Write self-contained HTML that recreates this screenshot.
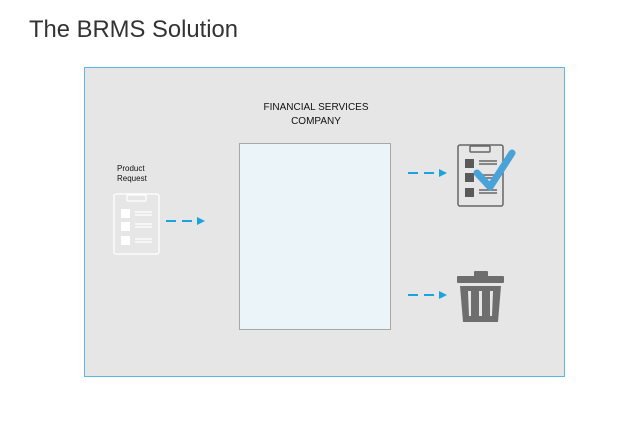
<!DOCTYPE html>
<html><head><style>body{margin:0;background:#fff;width:634px;height:434px;overflow:hidden}</style></head>
<body>
<svg width="634" height="434" xmlns="http://www.w3.org/2000/svg" font-family="Liberation Sans, sans-serif">
<text x="29" y="37" font-size="23.8" fill="#333">The BRMS Solution</text>
<rect x="84.5" y="67.5" width="480" height="309" fill="#e6e6e6" stroke="#5bb8e0" stroke-width="1"/>
<text x="316" y="110" font-size="10" text-anchor="middle" fill="#111">FINANCIAL SERVICES</text>
<text x="316" y="124" font-size="10" text-anchor="middle" fill="#111">COMPANY</text>
<rect x="239.5" y="143.5" width="151" height="186" fill="#eaf4f9" stroke="#a8a8a8"/>
<text x="117" y="171" font-size="8" fill="#111">Product</text>
<text x="117" y="181" font-size="8" fill="#111">Request</text>
<g stroke="#fff" fill="none" stroke-width="1.3">
<rect x="114" y="194" width="45" height="60" rx="2"/>
<rect x="127" y="195" width="19" height="6" rx="1"/>
<line x1="135" y1="212" x2="152" y2="212"/><line x1="135" y1="215" x2="152" y2="215"/>
<line x1="135" y1="224" x2="152" y2="224"/><line x1="135" y1="227" x2="152" y2="227"/>
<line x1="135" y1="239" x2="152" y2="239"/><line x1="135" y1="242" x2="152" y2="242"/>
</g>
<g fill="#fff"><rect x="121" y="209" width="9" height="9"/><rect x="121" y="222" width="9" height="9"/><rect x="121" y="236" width="9" height="9"/></g>
<g stroke="#1aa3dc" stroke-width="2" stroke-dasharray="10,6">
<line x1="166" y1="221" x2="198" y2="221"/>
<line x1="408" y1="173" x2="440" y2="173"/>
<line x1="408" y1="295" x2="440" y2="295"/>
</g>
<g fill="#1aa3dc">
<polygon points="197,217 205,221 197,225"/>
<polygon points="439,169 447,173 439,177"/>
<polygon points="439,291 447,295 439,299"/>
</g>
<g stroke="#666" fill="none" stroke-width="1.5">
<rect x="458" y="145" width="45" height="61" rx="2"/>
<rect x="470" y="146" width="20" height="6" rx="1"/>
<line x1="479" y1="161" x2="497" y2="161"/><line x1="479" y1="164" x2="497" y2="164"/>
<line x1="479" y1="175" x2="497" y2="175"/><line x1="479" y1="178" x2="497" y2="178"/>
<line x1="479" y1="190" x2="497" y2="190"/><line x1="479" y1="193" x2="497" y2="193"/>
</g>
<g fill="#5a5a5a"><rect x="465" y="159" width="9" height="9"/><rect x="465" y="173" width="9" height="9"/><rect x="465" y="188" width="9" height="9"/></g>
<polyline points="477,173 490,187 512,153" fill="none" stroke="#4aa3d8" stroke-width="7" stroke-linecap="round" stroke-linejoin="round"/>
<g fill="#6e6e6e">
<rect x="474" y="271" width="14" height="6" rx="1"/>
<rect x="457" y="276" width="47" height="7" rx="1"/>
<path d="M460 286 H501 L498 322 H463 Z"/>
</g>
<g fill="#e6e6e6">
<polygon points="468,291 471,291 471,316 469,316"/>
<rect x="479" y="291" width="3" height="25"/>
<polygon points="490,291 493,291 492,316 490,316"/>
</g>
</svg>
</body></html>
